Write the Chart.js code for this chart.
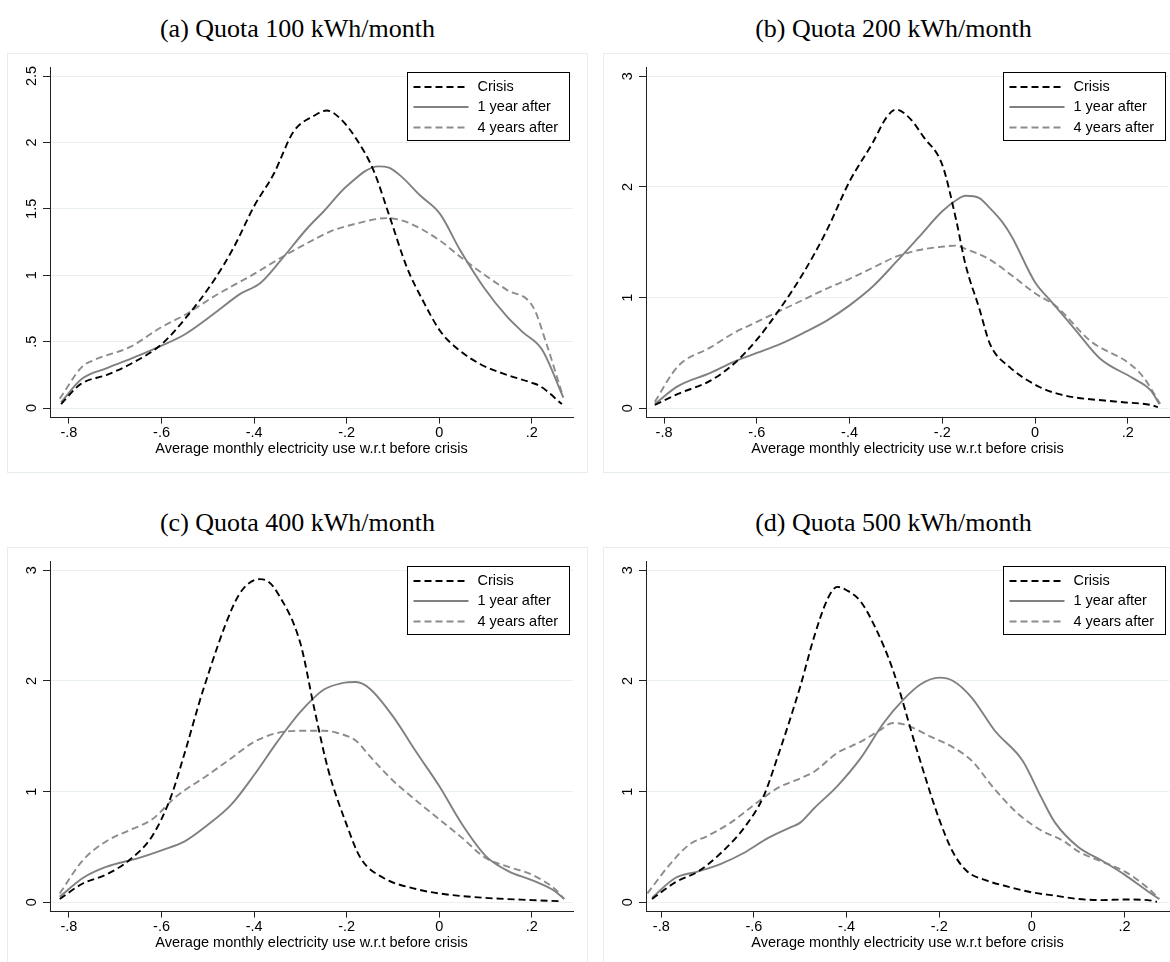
<!DOCTYPE html>
<html>
<head>
<meta charset="utf-8">
<script src="https://cdn.jsdelivr.net/npm/chart.js@4.4.1/dist/chart.umd.min.js"></script>
<style>
  html, body { margin: 0; padding: 0; background: #fff; width: 1170px; height: 962px; overflow: hidden; }
  .box { position: absolute; width: 581px; height: 420px; box-sizing: border-box; border: 1px solid #e6edf0; }
  .panel { position: absolute; }
  .title { position: absolute; width: 581px; text-align: center; font-family: "Liberation Serif", "Times New Roman", serif; font-size: 26px; line-height: 30px; color: #000; }
</style>
</head>
<body>

<div class="title" style="left:7px;top:14px">(a) Quota 100 kWh/month</div>
<div class="title" style="left:603px;top:14px">(b) Quota 200 kWh/month</div>
<div class="title" style="left:7px;top:508px">(c) Quota 400 kWh/month</div>
<div class="title" style="left:603px;top:508px">(d) Quota 500 kWh/month</div>

<div class="box" style="left:7px;top:53px"></div>
<div class="box" style="left:603px;top:53px"></div>
<div class="box" style="left:7px;top:547px"></div>
<div class="box" style="left:603px;top:547px"></div>

<canvas id="chartA" class="panel" width="581" height="420" style="left:7px;top:53px"></canvas>
<canvas id="chartB" class="panel" width="581" height="420" style="left:603px;top:53px"></canvas>
<canvas id="chartC" class="panel" width="581" height="420" style="left:7px;top:547px"></canvas>
<canvas id="chartD" class="panel" width="581" height="420" style="left:603px;top:547px"></canvas>

<script>
// tick labels
const xTicks = [-0.8, -0.6, -0.4, -0.2, 0, 0.2];
const yTicksA = [0, 0.5, 1, 1.5, 2, 2.5];
const yTicksBCD = [0, 1, 2, 3];
const seriesNames = ['Crisis', '1 year after', '4 years after'];

// (a) Quota 100 kWh/month
const crisisAX = [-0.817, -0.775, -0.718, -0.668, -0.6, -0.545, -0.487, -0.444, -0.4, -0.358, -0.315, -0.271, -0.243, -0.214, -0.178, -0.142, -0.109, -0.07, -0.034, 0.002, 0.038, 0.089, 0.146, 0.2, 0.218, 0.265];
const crisisAY = [0.03, 0.18, 0.25, 0.33, 0.48, 0.69, 0.96, 1.21, 1.52, 1.76, 2.08, 2.2, 2.24, 2.18, 2.02, 1.79, 1.46, 1.06, 0.8, 0.58, 0.45, 0.33, 0.25, 0.19, 0.165, 0.03];
const year1AX = [-0.817, -0.772, -0.718, -0.646, -0.6, -0.552, -0.487, -0.43, -0.387, -0.343, -0.286, -0.25, -0.2, -0.131, -0.109, -0.084, -0.041, 0.002, 0.045, 0.096, 0.146, 0.181, 0.222, 0.268];
const year1AY = [0.045, 0.22, 0.30, 0.40, 0.47, 0.55, 0.71, 0.86, 0.94, 1.11, 1.35, 1.48, 1.67, 1.82, 1.81, 1.75, 1.60, 1.46, 1.19, 0.91, 0.69, 0.57, 0.44, 0.08];
const year4AX = [-0.82, -0.772, -0.747, -0.668, -0.6, -0.545, -0.487, -0.4, -0.343, -0.286, -0.235, -0.178, -0.113, -0.07, 0.002, 0.045, 0.103, 0.146, 0.203, 0.232, 0.268];
const year4AY = [0.07, 0.31, 0.36, 0.46, 0.61, 0.71, 0.84, 1.01, 1.13, 1.24, 1.33, 1.39, 1.43, 1.40, 1.26, 1.14, 0.99, 0.89, 0.76, 0.48, 0.08];

// (b) Quota 200 kWh/month
const crisisBX = [-0.82, -0.77, -0.7, -0.65, -0.6, -0.55, -0.5, -0.45, -0.4, -0.35, -0.32, -0.3, -0.27, -0.24, -0.2, -0.17, -0.15, -0.12, -0.097, -0.054, 0.011, 0.05, 0.083, 0.15, 0.19, 0.25, 0.265];
const crisisBY = [0.03, 0.13, 0.25, 0.4, 0.62, 0.9, 1.22, 1.6, 2.05, 2.4, 2.63, 2.7, 2.62, 2.45, 2.2, 1.7, 1.3, 0.9, 0.58, 0.37, 0.19, 0.13, 0.10, 0.07, 0.055, 0.03, 0.01];
const year1BX = [-0.82, -0.77, -0.7, -0.65, -0.6, -0.55, -0.5, -0.45, -0.4, -0.35, -0.3, -0.25, -0.2, -0.17, -0.15, -0.12, -0.1, -0.07, -0.05, 0, 0.032, 0.083, 0.14, 0.212, 0.25, 0.268];
const year1BY = [0.04, 0.2, 0.32, 0.42, 0.5, 0.58, 0.68, 0.79, 0.93, 1.1, 1.32, 1.55, 1.78, 1.88, 1.92, 1.9, 1.82, 1.68, 1.55, 1.14, 0.98, 0.73, 0.45, 0.27, 0.16, 0.04];
const year4BX = [-0.82, -0.77, -0.7, -0.65, -0.6, -0.55, -0.5, -0.45, -0.4, -0.35, -0.3, -0.25, -0.2, -0.17, -0.15, -0.1, -0.05, 0, 0.046, 0.119, 0.205, 0.234, 0.27];
const year4BY = [0.06, 0.38, 0.55, 0.68, 0.78, 0.88, 0.98, 1.08, 1.17, 1.27, 1.37, 1.43, 1.46, 1.47, 1.44, 1.35, 1.2, 1.04, 0.92, 0.61, 0.40, 0.28, 0.04];

// (c) Quota 400 kWh/month
const crisisCX = [-0.82, -0.77, -0.72, -0.67, -0.62, -0.58, -0.55, -0.51, -0.445, -0.42, -0.387, -0.37, -0.35, -0.3, -0.27, -0.24, -0.2, -0.17, -0.12, -0.05, 0, 0.1, 0.2, 0.265];
const crisisCY = [0.03, 0.17, 0.25, 0.38, 0.6, 0.95, 1.35, 1.92, 2.68, 2.85, 2.92, 2.9, 2.8, 2.34, 1.75, 1.2, 0.7, 0.4, 0.22, 0.12, 0.08, 0.04, 0.02, 0.01];
const year1CX = [-0.82, -0.77, -0.72, -0.65, -0.6, -0.55, -0.5, -0.45, -0.4, -0.35, -0.3, -0.25, -0.21, -0.18, -0.15, -0.1, -0.05, 0, 0.05, 0.1, 0.15, 0.2, 0.25, 0.27];
const year1CY = [0.05, 0.22, 0.32, 0.4, 0.47, 0.55, 0.7, 0.88, 1.15, 1.45, 1.72, 1.92, 1.98, 1.99, 1.93, 1.68, 1.36, 1.05, 0.7, 0.42, 0.28, 0.2, 0.1, 0.03];
const year4CX = [-0.82, -0.77, -0.72, -0.67, -0.62, -0.57, -0.5, -0.45, -0.4, -0.35, -0.3, -0.25, -0.22, -0.18, -0.15, -0.1, -0.05, 0, 0.05, 0.1, 0.15, 0.2, 0.25, 0.27];
const year4CY = [0.08, 0.38, 0.55, 0.65, 0.75, 0.95, 1.15, 1.3, 1.45, 1.53, 1.55, 1.55, 1.53, 1.46, 1.32, 1.1, 0.92, 0.75, 0.58, 0.4, 0.32, 0.25, 0.12, 0.03];

// (d) Quota 500 kWh/month
const crisisDX = [-0.82, -0.77, -0.72, -0.67, -0.62, -0.58, -0.55, -0.5, -0.47, -0.44, -0.42, -0.4, -0.37, -0.34, -0.3, -0.25, -0.2, -0.17, -0.14, -0.1, -0.05, 0, 0.05, 0.1, 0.15, 0.2, 0.25, 0.27];
const crisisDY = [0.03, 0.18, 0.28, 0.45, 0.68, 0.95, 1.3, 1.95, 2.4, 2.75, 2.85, 2.82, 2.72, 2.5, 2.1, 1.4, 0.75, 0.45, 0.28, 0.2, 0.14, 0.09, 0.06, 0.03, 0.02, 0.025, 0.02, 0.005];
const year1DX = [-0.82, -0.77, -0.72, -0.67, -0.62, -0.57, -0.52, -0.5, -0.47, -0.42, -0.37, -0.32, -0.28, -0.24, -0.2, -0.17, -0.13, -0.08, -0.02, 0.02, 0.05, 0.1, 0.15, 0.2, 0.25, 0.275];
const year1DY = [0.04, 0.22, 0.28, 0.35, 0.45, 0.58, 0.68, 0.72, 0.85, 1.05, 1.3, 1.62, 1.82, 1.97, 2.03, 2.0, 1.85, 1.55, 1.28, 0.95, 0.72, 0.5, 0.38, 0.25, 0.1, 0.03];
const year4DX = [-0.83, -0.78, -0.74, -0.7, -0.65, -0.6, -0.55, -0.5, -0.47, -0.42, -0.37, -0.33, -0.3, -0.27, -0.22, -0.17, -0.13, -0.08, -0.03, 0.02, 0.07, 0.1, 0.15, 0.2, 0.25, 0.275];
const year4DY = [0.08, 0.35, 0.52, 0.6, 0.72, 0.88, 1.03, 1.12, 1.18, 1.35, 1.45, 1.55, 1.62, 1.6, 1.5, 1.4, 1.28, 1.02, 0.8, 0.65, 0.55, 0.46, 0.37, 0.28, 0.13, 0.03];

const labelFont = '"Liberation Sans", Arial, sans-serif';

function fmtTick(v) {
    if (v === 0) return '0';
    let s = String(Math.round(v * 10) / 10);
    return s.replace('0.', '.');
}

function toPoints(xs, ys) {
    return xs.map(function (x, i) { return { x: x, y: ys[i] }; });
}

// Stata style vertical y labels
const yLabelPlugin = {
    id: 'yLabels',
    afterDraw(chart) {
        const s = chart.scales.y;
        const ctx = chart.ctx;
        ctx.save();
        ctx.font = '14.5px ' + labelFont;
        ctx.fillStyle = '#000';
        ctx.textAlign = 'center';
        ctx.textBaseline = 'middle';
        s.ticks.forEach(function (t) {
            ctx.save();
            ctx.translate(25, s.getPixelForValue(t.value));
            ctx.rotate(-Math.PI / 2);
            ctx.fillText(fmtTick(t.value), 0, 0);
            ctx.restore();
        });
        ctx.restore();
    }
};

// legend box inside the plot, top right
const boxLegendPlugin = {
    id: 'boxLegend',
    afterDraw(chart) {
        const ctx = chart.ctx;
        const area = chart.chartArea;
        const w = 162, h = 68;
        const left = Math.round(area.right - 4 - w) + 0.5;
        const top = Math.round(area.top + 5) + 0.5;
        ctx.save();
        ctx.fillStyle = '#fff';
        ctx.fillRect(left, top, w, h);
        ctx.strokeStyle = '#000';
        ctx.lineWidth = 1;
        ctx.strokeRect(left, top, w, h);
        const rows = [14.5, 34.5, 55];
        chart.data.datasets.forEach(function (ds, i) {
            const y = top + rows[i];
            ctx.beginPath();
            ctx.setLineDash(ds.borderDash || []);
            ctx.strokeStyle = ds.borderColor;
            ctx.lineWidth = ds.borderWidth;
            ctx.moveTo(left + 6, y);
            ctx.lineTo(left + 61, y);
            ctx.stroke();
            ctx.setLineDash([]);
            ctx.fillStyle = '#000';
            ctx.font = '14.5px ' + labelFont;
            ctx.textAlign = 'left';
            ctx.textBaseline = 'middle';
            ctx.fillText(ds.label, left + 70, y);
        });
        ctx.restore();
    }
};

function makeChart(id, crisis, year1, year4, yTicks, xMin, xMax, yMin, yMax) {
    const ctx = document.getElementById(id).getContext('2d');
    return new Chart(ctx, {
        type: 'line',
        data: {
            datasets: [
                {
                    label: seriesNames[0],
                    data: crisis,
                    borderColor: '#000',
                    borderWidth: 1.9,
                    borderDash: [7, 4],
                    pointRadius: 0,
                    cubicInterpolationMode: 'monotone',
                    fill: false
                },
                {
                    label: seriesNames[1],
                    data: year1,
                    borderColor: '#808080',
                    borderWidth: 1.9,
                    pointRadius: 0,
                    cubicInterpolationMode: 'monotone',
                    fill: false
                },
                {
                    label: seriesNames[2],
                    data: year4,
                    borderColor: '#8c8c8c',
                    borderWidth: 1.9,
                    borderDash: [7, 4],
                    pointRadius: 0,
                    cubicInterpolationMode: 'monotone',
                    fill: false
                }
            ]
        },
        options: {
            responsive: false,
            animation: false,
            devicePixelRatio: 1,
            layout: { padding: { left: 0, top: 14, right: 15, bottom: 0 } },
            plugins: {
                legend: { display: false },
                tooltip: { enabled: false }
            },
            scales: {
                x: {
                    type: 'linear',
                    min: xMin,
                    max: xMax,
                    afterBuildTicks: function (scale) {
                        scale.ticks = xTicks.map(function (v) { return { value: v }; });
                    },
                    afterFit: function (scale) { scale.height = 55.4; },
                    grid: { drawOnChartArea: false, drawTicks: true, tickLength: 6, tickColor: '#222' },
                    border: { display: true, color: '#222', width: 1 },
                    ticks: {
                        color: '#000',
                        padding: 1,
                        maxRotation: 0,
                        font: { family: labelFont, size: 14.5 },
                        callback: function (v) { return fmtTick(v); }
                    },
                    title: {
                        display: true,
                        text: 'Average monthly electricity use w.r.t before crisis',
                        color: '#000',
                        font: { family: labelFont, size: 14.5 },
                        padding: { top: 0, bottom: 15 }
                    }
                },
                y: {
                    type: 'linear',
                    min: yMin,
                    max: yMax,
                    afterBuildTicks: function (scale) {
                        scale.ticks = yTicks.map(function (v) { return { value: v }; });
                    },
                    afterFit: function (scale) { scale.width = 43; },
                    grid: { color: '#e8f0f2', lineWidth: 1, drawTicks: true, tickLength: 7, tickColor: '#222' },
                    border: { display: true, color: '#222', width: 1 },
                    ticks: { display: false }
                }
            }
        },
        plugins: [yLabelPlugin, boxLegendPlugin]
    });
}

makeChart('chartA', toPoints(crisisAX, crisisAY), toPoints(year1AX, year1AY), toPoints(year4AX, year4AY), yTicksA, -0.841, 0.289, -0.072, 2.568);
makeChart('chartB', toPoints(crisisBX, crisisBY), toPoints(year1BX, year1BY), toPoints(year4BX, year4BY), yTicksBCD, -0.839, 0.289, -0.084, 3.084);
makeChart('chartC', toPoints(crisisCX, crisisCY), toPoints(year1CX, year1CY), toPoints(year4CX, year4CY), yTicksBCD, -0.841, 0.289, -0.084, 3.084);
makeChart('chartD', toPoints(crisisDX, crisisDY), toPoints(year1DX, year1DY), toPoints(year4DX, year4DY), yTicksBCD, -0.833, 0.296, -0.084, 3.084);
</script>
</body>
</html>
